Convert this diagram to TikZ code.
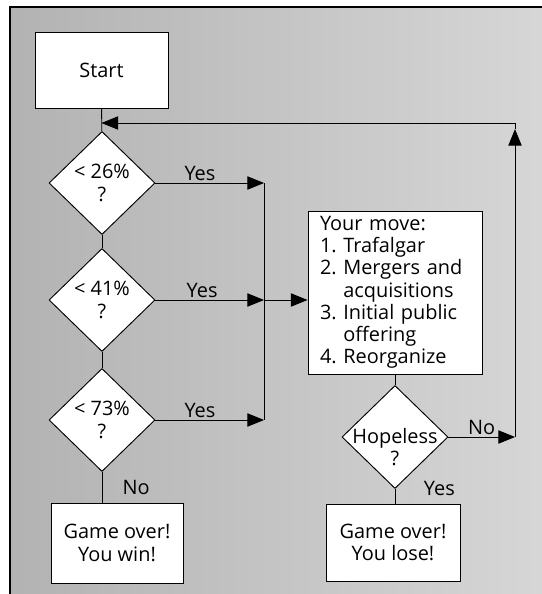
\documentclass[tikz,border=0pt]{standalone}
\usepackage{fontspec}
\setmainfont{Open Sans}
\frenchspacing
\usetikzlibrary{shapes.geometric,arrows.meta}
\tikzset{
  box/.style={rectangle, draw, fill=white, line width=0.8pt, align=center},
  cond/.style={diamond, draw, fill=white, line width=0.8pt, minimum width=3.18cm, minimum height=3.09cm, inner sep=0pt},
  link/.style={line width=0.8pt},
  arr/.style={link, -{Triangle[length=0.5cm,width=0.4cm]}},
  lbl/.style={inner sep=1.5pt}
}
\begin{document}
\begin{tikzpicture}[x=0.03cm, y=-0.03cm, font=\fontsize{17}{19}\selectfont]
  \useasboundingbox (0,0) rectangle (542,594);
  % Hintergrund
  \shade[left color=gray!60, right color=gray!32] (10,7) rectangle (542,594);
  \draw[line width=1pt] (10,594) -- (10,7) -- (542,7);

  % Kaesten und Rauten
  \node[box, minimum width=3.99cm, minimum height=2.28cm] (start) at (101.5,70) {Start};
  \node[cond, label={[align=center]center:< 26\%\\?}] (q26) at (102,183) {};
  \node[cond, label={[align=center]center:< 41\%\\?}] (q41) at (102,300) {};
  \node[cond, label={[align=center]center:< 73\%\\?}] (q73) at (102,420) {};
  \node[box, minimum width=3.96cm, minimum height=2.4cm] (win) at (117,543) {Game over!\\You win!};
  \node[box, align=left, text width=4.5cm, inner xsep=0.36cm, minimum height=4.89cm] (move) at (395,292.5)
    {Your move:\\1. Trafalgar\\2. Mergers and\\\phantom{2. }acquisitions\\3. Initial public\\\phantom{3. }offering\\4. Reorganize};
  \node[cond, label={[align=center, yshift=-0.3cm]center:Hopeless\\?}] (hope) at (395,437) {};
  \node[box, minimum width=4.02cm, minimum height=2.31cm] (lose) at (393,542.5) {Game over!\\You lose!};

  % Hilfspunkte
  \coordinate (bx) at (264,0);
  \coordinate (rx) at (515,0);
  \coordinate (rup) at (515,129);
  \coordinate (rtop) at (515,123);
  \coordinate (y26) at (q26.east -| bx);
  \coordinate (y41) at (q41.east -| bx);
  \coordinate (y73) at (q73.east -| bx);

  % Verbindungen links
  \draw[link] (start) -- (q26);
  \draw[link] (q26) -- (q41);
  \draw[link] (q41) -- (q73);
  \draw[link] (q73.south) -- node[right, lbl, xshift=0.55cm] {No} (q73.south |- win.north);
  \draw[arr] (q26.east) -- node[above, lbl, pos=0.41] {Yes} (y26);
  \draw[arr] (q41.east) -- node[above, lbl, pos=0.43] {Yes} (y41);
  \draw[arr] (q73.east) -- node[above, lbl, pos=0.41] {Yes} (y73);
  \draw[link] (y26) -- (y73);
  \draw[arr] (y41) -- (move.west |- y41);

  % Verbindungen rechts
  \draw[link] (move) -- (hope);
  \draw[link] (hope.south) -- node[pos=0, anchor=west, lbl, xshift=0.8cm] {Yes} (hope.south |- lose.north);
  \draw[arr] (hope.east) -- node[above, lbl, pos=0.5] {No} (hope.east -| rx);
  \draw[arr] (hope.east -| rx) -- (rup);
  \draw[arr] (rup) -- (rtop) -- (start.south |- rtop);
\end{tikzpicture}
\end{document}
